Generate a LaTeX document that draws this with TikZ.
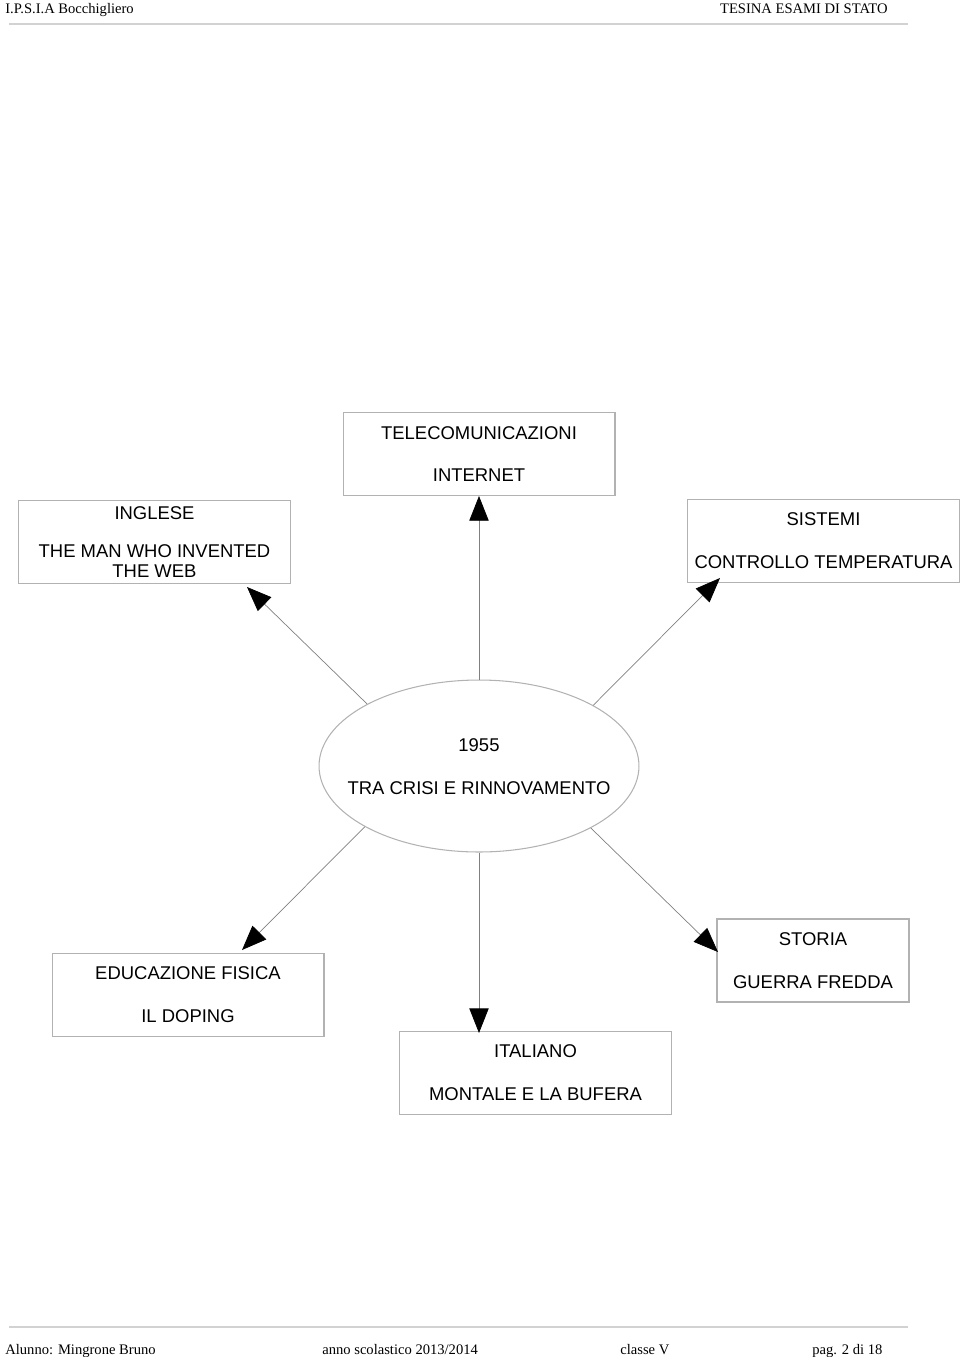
\documentclass[tikz,border=0pt]{standalone}
\usepackage{fontspec}
\setmainfont{Liberation Sans}
\newfontfamily\hdfont{Liberation Serif}
\usetikzlibrary{arrows.meta}
\usetikzlibrary{shapes.geometric}

\begin{document}
\begin{tikzpicture}[x=0.02cm,y=-0.02cm]

\tikzstyle{box}=[rectangle, draw=gray!60, line width=0.6pt, minimum width=5.44cm, minimum height=1.66cm, inner sep=0pt, align=center, font=\fontsize{10.5}{11.5}\selectfont]
\tikzstyle{oval}=[ellipse, draw=gray!60, line width=0.6pt, minimum width=6.4cm, minimum height=3.44cm, inner sep=0pt]
\tikzstyle{txt}=[inner sep=0pt, align=center, font=\fontsize{10.5}{11.5}\selectfont]
\tikzstyle{head}=[inner sep=0pt, font=\hdfont\fontsize{8.3}{10}\selectfont]
\tikzstyle{rule}=[draw=gray!35, line width=0.6pt]
\tikzstyle{arrow}=[draw=gray, line width=0.4pt, -{Triangle[length=14pt, width=11pt, color=black]}]

\useasboundingbox (0,0) rectangle (960,1357);

\node (hl) [head, anchor=base west] at (5,13) {I.P.S.I.A Bocchigliero};
\node (hr) [head, anchor=base east] at (888,13) {TESINA ESAMI DI STATO};
\draw [rule] (9,24) -- (908,24);

\node (tel) [box] at (479,454) {TELECOMUNICAZIONI\\[12.9pt]INTERNET};
\node (ing) [box] at (154.5,542) {INGLESE\\[10pt]THE MAN WHO INVENTED\\THE WEB};
\node (sis) [box] at (823.5,541) {SISTEMI\\[12.9pt]CONTROLLO TEMPERATURA};

\node (cen) [oval] at (479,766) {};
\node (cent) [txt] at (479,767) {1955\\[12.9pt]TRA CRISI E RINNOVAMENTO};

\node (edu) [box] at (188,995) {EDUCAZIONE FISICA\\[12.9pt]IL DOPING};
\node (ita) [box] at (535.5,1073) {ITALIANO\\[12.9pt]MONTALE E LA BUFERA};
\node (sto) [box, minimum width=3.84cm] at (813,960.5) {STORIA\\[12.9pt]GUERRA FREDDA};

\coordinate (tA) at (247,587);
\coordinate (tB) at (720,578);
\coordinate (tC) at (242,950);
\coordinate (tD) at (479,1033);
\coordinate (tE) at (718,952);

\draw [arrow] (cen.north) -- (tel.south);
\draw [arrow] (cen.151) -- (tA);
\draw [arrow] (cen.28) -- (tB);
\draw [arrow] (cen.208) -- (tC);
\draw [arrow] (cen.south) -- (tD);
\draw [arrow] (cen.331) -- (tE);

\draw [rule] (9,1327) -- (908,1327);
\node (f1) [head, anchor=base west] at (5,1354) {Alunno: Mingrone Bruno};
\node (f2) [head, anchor=base west] at (322,1354) {anno scolastico 2013/2014};
\node (f3) [head, anchor=base west] at (620,1354) {classe V};
\node (f4) [head, anchor=base west] at (812,1354) {pag. 2 di 18};

\end{tikzpicture}
\end{document}
